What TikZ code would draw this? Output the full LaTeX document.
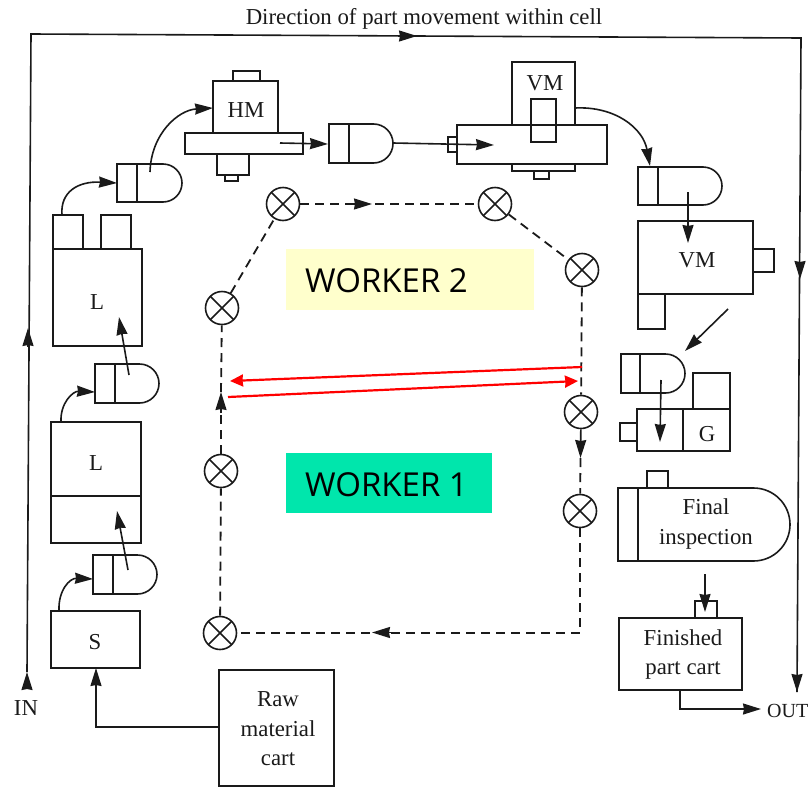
\documentclass[tikz,border=0pt]{standalone}
\usepackage{fontspec}
\setmainfont{Liberation Serif}
\newfontfamily\wfont{Open Sans}
\usetikzlibrary{arrows.meta,fit}
\definecolor{ink}{HTML}{1A1A1A}
\definecolor{wyellow}{HTML}{FFFFCC}
\definecolor{wgreen}{HTML}{00E6AC}
\newcommand{\mach}[5]{\node[mbox,fit={(#2,#3)(#4,#5)}] (#1) {};}
\newcommand{\pallet}[6]{%
  \node[pbox,fit={(#2,#3)(#4,#5)}] (#1) {};
  \pgfmathsetmacro\palr{(#5-#3)/2}
  \pgfmathsetmacro\palx{#4-\palr}
  \draw[mline] (#2,#3) -- (\palx,#3) arc (90:-90:\palr pt) -- (#2,#5) -- cycle (#6,#3) -- (#6,#5);
}
\tikzset{
  mline/.style={draw=ink,line width=1.6pt},
  mbox/.style={mline,rectangle,inner sep=0pt,outer sep=0pt},
  pbox/.style={rectangle,inner sep=0pt,outer sep=0pt},
  lbl/.style={font=\fontsize{22.8}{29.5}\selectfont,text=ink,inner sep=0pt,align=center},
  arr/.style={mline,-{Stealth[length=18pt,width=11pt,inset=1pt]}},
  dsh/.style={draw=ink,line width=1.8pt,dash pattern=on 9pt off 6pt},
  xc/.style={circle,draw=ink,line width=1.6pt,minimum size=33pt,inner sep=0pt,fill=white,
    path picture={\draw[ink,line width=1.6pt]
      (path picture bounding box.north west)--(path picture bounding box.south east)
      (path picture bounding box.north east)--(path picture bounding box.south west);}},
  redl/.style={draw=red,line width=2.2pt},
  reda/.style={redl,-{Stealth[length=13pt,width=12pt,inset=0.5pt]}},
  wk/.style={font=\wfont\fontsize{33}{36}\selectfont,text=black,inner sep=0pt},
}
\begin{document}
\begin{tikzpicture}[x=1pt,y=-1pt]
\useasboundingbox (0,0) rectangle (810,787);
% worker panels
\node[fill=wyellow,inner sep=0pt,fit={(286,249)(534,310)}] (wy) {};
\node[fill=wgreen,inner sep=0pt,fit={(286,453)(492,513)}] (wg) {};
\node[wk] (w2) at (386.5,281) {WORKER 2};
\node[wk] (w1) at (386.5,485) {WORKER 1};
% outer flow line
\coordinate (in0) at (27,688);
\coordinate (in1) at (27,672);
\coordinate (lm0) at (28,347);
\coordinate (lm1) at (28,328);
\coordinate (tl) at (31,34);
\coordinate (tm0) at (398,36);
\coordinate (tm1) at (417,36);
\coordinate (tr) at (801,38);
\coordinate (rm0) at (800,262);
\coordinate (rm1) at (800,279);
\coordinate (out0) at (797,675);
\coordinate (out1) at (797,692);
\draw[arr] (in0) -- (in1);
\draw[mline] (in1) -- (tl) -- (tr) -- (out1);
\draw[arr] (lm0) -- (lm1);
\draw[arr] (tm0) -- (tm1);
\draw[arr] (rm0) -- (rm1);
\draw[arr] (out0) -- (out1);
\node[lbl] (dir) at (424,18.5) {Direction of part movement within cell};
\node[lbl] (inl) at (26,708) {IN};
\node[lbl,anchor=west,font=\fontsize{20}{24}\selectfont] (outl) at (767,711) {OUT};
% machines
\mach{hm}{213}{81}{278}{133}
\mach{hmtop}{233}{71}{260}{81}
\mach{hmtable}{185}{133}{303}{154}
\mach{hmb}{217}{154}{249}{175}
\mach{hmbb}{225}{175}{238}{181}
\node[lbl] (hmt) at (246,110) {HM};
\mach{vma}{512}{62}{575}{125}
\mach{vmatable}{457}{125}{607}{164}
\mach{vmain}{531}{99}{556}{142}
\mach{vmab}{512}{164}{575}{171}
\mach{vmabb}{534}{171}{549}{179}
\mach{vmal}{448}{137}{457}{152}
\node[lbl] (vmat) at (545,83) {VM};
\mach{vmb}{638}{221}{753}{294}
\mach{vmbr}{753}{249}{774}{272}
\mach{vmbs}{638}{294}{665}{329}
\node[lbl] (vmbt) at (697,260) {VM};
\mach{lu}{53}{249}{142}{346}
\mach{lua}{53}{215}{83}{249}
\mach{lub}{101}{215}{131}{249}
\node[lbl] (lut) at (97,302) {L};
\mach{ll}{51}{422}{141}{543}
\draw[mline] (ll.west |- 0,496) -- (ll.east |- 0,496);
\node[lbl] (llt) at (96,463) {L};
\mach{s}{51}{611}{140}{668}
\node[lbl] (st) at (95,642) {S};
\mach{raw}{219}{670}{334}{786}
\node[lbl] (rawt) at (278,729) {Raw\\material\\cart};
\mach{g}{637}{409}{730}{451}
\draw[mline] (683,409) -- (683,451);
\mach{gtop}{693}{373}{730}{409}
\mach{gl}{620}{423}{637}{441}
\node[lbl] (gt) at (707,434) {G};
% final inspection
\node[pbox,fit={(618,488)(790,561)}] (fi) {};
\draw[mline] (618,488) -- (753.5,488) arc (90:-90:36.5pt) -- (618,561) -- cycle (638,488) -- (638,561);
\mach{fitop}{647}{471}{668}{488}
\node[lbl] (fit) at (706,524) {Final\\inspection};
\mach{fp}{619}{618}{742}{690}
\mach{fptop}{695}{601}{717}{618}
\node[lbl] (fpt) at (683,654.5) {Finished\\part cart};
% pallets
\pallet{p1}{117}{164}{182}{202}{137}
\pallet{p2}{329}{124}{393}{163}{349}
\pallet{p3}{638}{167}{722}{205}{658}
\pallet{p4}{621}{354}{685}{393}{640}
\pallet{p5}{95}{364}{159}{403}{115}
\pallet{p6}{93}{555}{157}{594}{113}
% material connectors
\coordinate (a1) at (59,611);
\coordinate (a2) at (93,579);
\draw[arr] (a1) .. controls (58,590) and (70,578) .. (a2);
\coordinate (b1) at (128,570);
\coordinate (b2) at (117,511);
\draw[arr] (b1) -- (b2);
\coordinate (c1s) at (61,422);
\coordinate (c1e) at (95,392);
\draw[arr] (c1s) .. controls (60,403) and (73,391) .. (c1e);
\coordinate (d1) at (129,375);
\coordinate (d2) at (119,317);
\draw[arr] (d1) -- (d2);
\coordinate (e1) at (62,215);
\coordinate (e2) at (117,183);
\draw[arr] (e1) .. controls (60,192) and (78,181) .. (e2);
\coordinate (f1) at (150,172);
\coordinate (f2) at (213,108);
\draw[arr] (f1) .. controls (151,134) and (178,110) .. (f2);
\coordinate (h1) at (280,143);
\coordinate (h2) at (328,144);
\draw[arr] (h1) -- (h2);
\coordinate (i1) at (393,143);
\coordinate (i2) at (494,145);
\draw[arr] (i1) -- (i2);
\coordinate (j1) at (575,108);
\coordinate (j2) at (650,166);
\draw[arr] (j1) .. controls (615,106) and (643,128) .. (j2);
\coordinate (k1) at (688,192);
\coordinate (k2) at (688,243);
\draw[arr] (k1) -- (k2);
\coordinate (l1) at (728,309);
\coordinate (l2) at (685,351);
\draw[arr] (l1) -- (l2);
\coordinate (m1) at (661,380);
\coordinate (m2) at (660,442);
\draw[arr] (m1) -- (m2);
\coordinate (n1) at (705,574);
\coordinate (n2) at (705,612);
\draw[arr] (n1) -- (n2);
\coordinate (o1) at (680,690);
\coordinate (o2) at (680,709);
\coordinate (o3) at (761,709);
\draw[arr] (o1) -- (o2) -- (o3);
\coordinate (q1) at (96,727);
\draw[arr] (raw.west |- q1) -- (q1) -- (s.south -| q1);
% worker path
\node[xc] (x1) at (222,308) {};
\node[xc] (x2) at (283,204) {};
\node[xc] (x3) at (495,204) {};
\node[xc] (x4) at (582,270) {};
\node[xc] (x5) at (581,412) {};
\node[xc] (x6) at (580,511) {};
\node[xc] (x7) at (220,633) {};
\node[xc] (x8) at (221,471) {};
\draw[dsh] (x1) -- (x2);
\draw[dsh] (x2) -- (x3);
\draw[dsh] (x3) -- (x4);
\draw[dsh] (x4) -- (x5);
\coordinate (s5) at (580.5,458);
\draw[arr] (x5) -- (s5);
\draw[dsh] (s5) -- (x6);
\draw[dsh] (x6) |- (x7);
\draw[dsh] (x7) -- (x8);
\coordinate (s8a) at (221,413);
\coordinate (s8) at (221,392);
\draw[dsh] (x8) -- (s8a);
\draw[arr] (s8a) -- (s8);
\draw[dsh] (s8) -- (x1);
\coordinate (s2a) at (352,204);
\coordinate (s2b) at (372,204);
\draw[arr] (s2a) -- (s2b);
\coordinate (s6a) at (394,632.5);
\coordinate (s6b) at (372,632.5);
\draw[arr] (s6a) -- (s6b);
% red arrows
\coordinate (r1) at (582,367);
\coordinate (r2) at (230,381);
\coordinate (r3) at (228,397);
\coordinate (r4) at (578,381);
\draw[reda] (r1) -- (r2);
\draw[reda] (r3) -- (r4);
\end{tikzpicture}
\end{document}
